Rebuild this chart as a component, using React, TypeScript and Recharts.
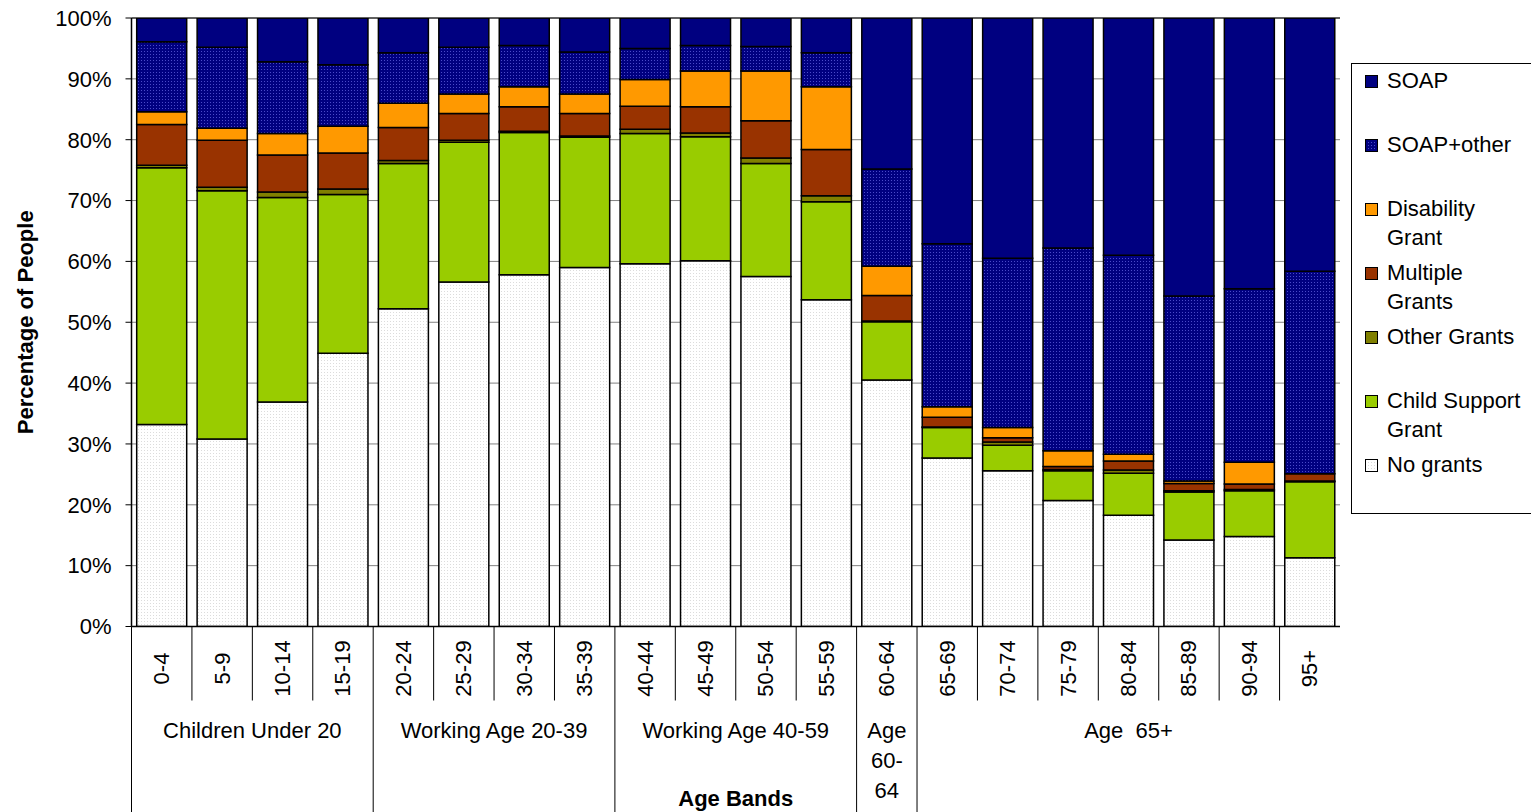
import { BarChart, Bar, XAxis, YAxis, CartesianGrid, ReferenceLine } from "recharts";

const FONT = '"Liberation Sans", Arial, Helvetica, sans-serif';

const bands = [
  "0-4", "5-9", "10-14", "15-19", "20-24", "25-29", "30-34", "35-39", "40-44", "45-49",
  "50-54", "55-59", "60-64", "65-69", "70-74", "75-79", "80-84", "85-89", "90-94", "95+",
];

// percentage of people in each band (bottom to top)
const noGrants = [33.2, 30.8, 36.9, 44.9, 52.2, 56.6, 57.8, 59.0, 59.6, 60.1, 57.5, 53.7, 40.5, 27.7, 25.6, 20.7, 18.3, 14.2, 14.8, 11.3];
const childSupport = [42.2, 40.8, 33.6, 26.1, 23.9, 23.0, 23.4, 21.4, 21.4, 20.4, 18.6, 16.1, 9.6, 5.0, 4.2, 4.9, 6.9, 7.9, 7.5, 12.5];
const otherGrants = [0.4, 0.6, 0.9, 0.9, 0.5, 0.3, 0.2, 0.2, 0.7, 0.6, 0.9, 1.0, 0.1, 0.1, 0.5, 0.2, 0.5, 0.2, 0.2, 0.1];
const multipleGrants = [6.7, 7.7, 6.1, 5.9, 5.4, 4.4, 4.0, 3.7, 3.8, 4.3, 6.1, 7.6, 4.2, 1.6, 0.7, 0.5, 1.5, 1.2, 0.9, 1.2];
const disability = [2.1, 2.0, 3.5, 4.4, 4.0, 3.2, 3.3, 3.2, 4.4, 5.9, 8.2, 10.3, 4.8, 1.7, 1.7, 2.6, 1.1, 0.4, 3.6, 0.0];
const soapOther = [11.5, 13.3, 11.8, 10.1, 8.3, 7.7, 6.8, 6.9, 5.1, 4.2, 4.0, 5.6, 16.0, 26.8, 27.8, 33.3, 32.7, 30.4, 28.5, 33.3];
const soap = [3.9, 4.8, 7.2, 7.7, 5.7, 4.8, 4.5, 5.6, 5.0, 4.5, 4.7, 5.7, 24.8, 37.2, 39.5, 37.8, 39.0, 45.7, 44.5, 41.6];

const yTicks = [0, 10, 20, 30, 40, 50, 60, 70, 80, 90, 100];

const groupLines = [["Children Under 20"], ["Working Age 20-39"], ["Working Age 40-59"], ["Age", "60-", "64"], ["Age  65+"]];
const groupSizes = [4, 4, 4, 1, 7];

const groupStarts = groupSizes.map((_, g) => groupSizes.slice(0, g).reduce((a, b) => a + b, 0));

const series = [
  { key: "No grants", values: noGrants, fill: "url(#dotsWhite)" },
  { key: "Child Support Grant", values: childSupport, fill: "#99CC00" },
  { key: "Other Grants", values: otherGrants, fill: "#808000" },
  { key: "Multiple Grants", values: multipleGrants, fill: "#993300" },
  { key: "Disability Grant", values: disability, fill: "#FF9900" },
  { key: "SOAP+other", values: soapOther, fill: "url(#dotsNavy)" },
  { key: "SOAP", values: soap, fill: "#000080" },
];

const data = bands.map((band, i) => {
  const row: Record<string, string | number> = { band };
  series.forEach((s) => {
    row[s.key] = s.values[i];
  });
  return row;
});

function BandTick(props: any) {
  const { x, y, payload, index } = props;
  const half = payload?.offset ?? 30;
  const left = x - half;
  const isGroupStart = groupStarts.includes(index);
  const cy = y + 42;
  return (
    <g>
      <line x1={left} x2={left} y1={y} y2={isGroupStart ? 812 : y + 74} stroke="#000" strokeWidth={1} />
      <text
        x={x}
        y={cy}
        transform={`rotate(-90 ${x} ${cy})`}
        textAnchor="middle"
        dominantBaseline="central"
        fontSize={22}
        fill="#000"
      >
        {payload.value}
      </text>
    </g>
  );
}

function GroupTick(props: any) {
  const { x, y, payload, index } = props;
  const g = groupStarts.indexOf(index);
  if (g < 0) return <g />;
  const half = payload?.offset ?? 30;
  const cx = x - half + groupSizes[g] * half;
  return (
    <text x={cx} y={y + 36} textAnchor="middle" fontSize={22} fill="#000" style={{ whiteSpace: "pre" }}>
      {groupLines[g].map((line, i) => (
        <tspan key={i} x={cx} dy={i === 0 ? 0 : 30}>
          {line}
        </tspan>
      ))}
    </text>
  );
}

function LegendBox() {
  return (
    <div
      style={{
        position: "absolute",
        left: 1351,
        top: 63,
        border: "1px solid #000",
        background: "#fff",
        width: 185,
        height: 451,
        boxSizing: "border-box",
        paddingTop: 2,
        fontFamily: FONT,
        fontSize: 22,
        color: "#000",
      }}
    >
      {[...series].reverse().map((s) => (
        <div key={s.key} style={{ height: 64, display: "flex", alignItems: "flex-start" }}>
          <svg width={14} height={14} style={{ marginLeft: 13, marginTop: 9, flex: "none" }}>
            <rect x={0.5} y={0.5} width={12} height={12} fill={s.fill} stroke="#000" strokeWidth={1} />
          </svg>
          <div style={{ marginLeft: 8, width: 142, lineHeight: "29px" }}>{s.key}</div>
        </div>
      ))}
    </div>
  );
}

export default function App() {
  return (
    <div
      style={{
        position: "absolute",
        left: 0,
        top: 0,
        width: 1531,
        height: 812,
        overflow: "hidden",
        background: "#fff",
        fontFamily: FONT,
      }}
    >
      <svg width={0} height={0} style={{ position: "absolute" }}>
        <defs>
          <pattern id="dotsNavy" width={3} height={3} patternUnits="userSpaceOnUse">
            <rect width={3} height={3} fill="#000080" />
            <rect width={1} height={1} fill="#4a4ac8" />
          </pattern>
          <pattern id="dotsWhite" width={3} height={3} patternUnits="userSpaceOnUse">
            <rect width={3} height={3} fill="#ffffff" />
            <rect width={1} height={1} fill="#dcdcdc" />
          </pattern>
        </defs>
      </svg>
      <BarChart
        width={1531}
        height={812}
        data={data}
        margin={{ top: 18, right: 191, bottom: 0, left: 0 }}
        barCategoryGap="8.6%"
      >
        <CartesianGrid horizontal vertical={false} stroke="#808080" yAxisId="l" xAxisId="cat" />
        <XAxis
          xAxisId="cat"
          dataKey="band"
          height={75}
          interval={0}
          tickLine={false}
          tickSize={0}
          tickMargin={0}
          axisLine={{ stroke: "#000", strokeWidth: 1.5 }}
          tick={<BandTick />}
        />
        <XAxis
          xAxisId="grp"
          dataKey="band"
          height={110.5}
          interval={0}
          tickLine={false}
          tickSize={0}
          tickMargin={0}
          axisLine={false}
          tick={<GroupTick />}
          label={(p: any) => {
            const vb = p.viewBox;
            return (
              <text
                x={vb.x + vb.width / 2}
                y={806}
                textAnchor="middle"
                fontSize={22}
                fontWeight="bold"
                fill="#000"
              >
                Age Bands
              </text>
            );
          }}
        />
        <YAxis
          yAxisId="l"
          width={131.5}
          domain={[0, 100]}
          ticks={yTicks}
          interval={0}
          allowDataOverflow
          tickFormatter={(v: number) => `${v}%`}
          tick={{ fontSize: 22, fill: "#000" }}
          tickSize={6}
          tickMargin={14}
          tickLine={{ stroke: "#000" }}
          axisLine={{ stroke: "#000", strokeWidth: 1.5 }}
          label={(p: any) => {
            const vb = p.viewBox;
            const cy = vb.y + vb.height / 2;
            return (
              <text
                x={25}
                y={cy}
                transform={`rotate(-90 25 ${cy})`}
                textAnchor="middle"
                dominantBaseline="central"
                fontSize={22}
                fontWeight="bold"
                fill="#000"
              >
                Percentage of People
              </text>
            );
          }}
        />
        <YAxis
          yAxisId="r"
          orientation="right"
          width={0}
          domain={[0, 100]}
          tick={false}
          tickLine={false}
          axisLine={{ stroke: "#8a8a8a", strokeWidth: 2.5 }}
        />
        <ReferenceLine yAxisId="l" xAxisId="cat" y={100} stroke="#000" strokeWidth={1} />
        {series.map((s) => (
          <Bar
            key={s.key}
            dataKey={s.key}
            stackId="a"
            xAxisId="cat"
            yAxisId="l"
            fill={s.fill}
            stroke="#000"
            strokeWidth={1.5}
            isAnimationActive={false}
          />
        ))}
      </BarChart>
      <LegendBox />
    </div>
  );
}
